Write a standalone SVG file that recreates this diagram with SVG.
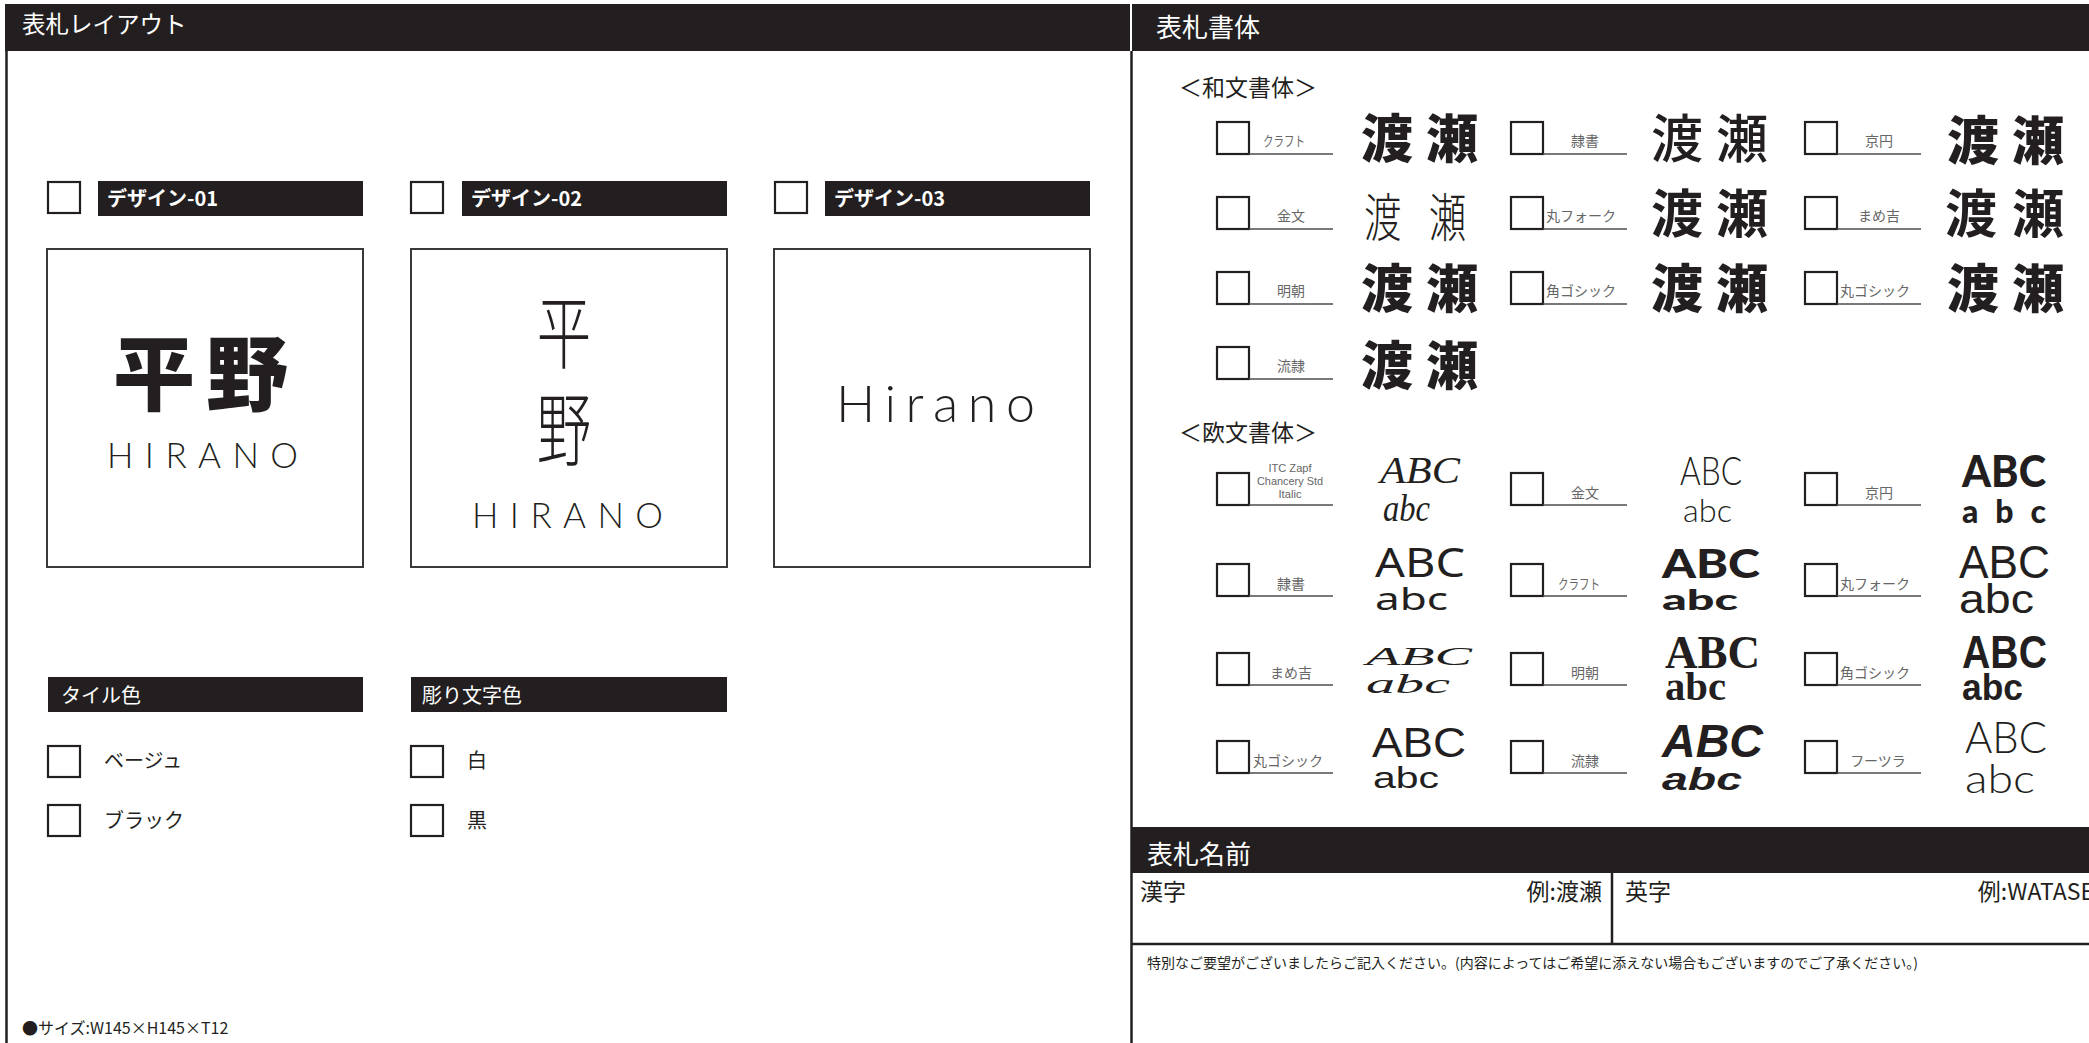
<svg xmlns="http://www.w3.org/2000/svg" width="2089" height="1043" viewBox="0 0 2089 1043">
<style>
.bg{fill:#fff}
.hdr{fill:#231f20}
.line{stroke:#231f20;stroke-width:2.5;fill:none}
.cb{fill:#fff;stroke:#231f20;stroke-width:2.2}
.box{fill:#fff;stroke:#3a3a3a;stroke-width:2}
.ul{stroke:#4d4d4f;stroke-width:1.6}
.jp{font-family:"Noto Sans CJK JP","Noto Sans",sans-serif;fill:#231f20}
.ht{font-family:"Noto Sans CJK JP","Noto Sans",sans-serif;fill:#fff}
.lbl{font-family:"Noto Sans CJK JP","Noto Sans",sans-serif;font-size:14px;fill:#666}
.tiny{font-family:"Liberation Sans",sans-serif;font-size:11px;fill:#666}
.en{font-family:"Lato","Noto Sans",sans-serif;fill:#231f20}
.samp{font-family:"Noto Sans CJK JP",sans-serif;font-size:52px;fill:#231f20}
</style>
<rect class="bg" x="0" y="0" width="2089" height="1043"/>

<!-- Left panel -->
<g id="panel-layout">
  <rect class="hdr" x="5" y="4" width="1125" height="47"/>
  <text class="ht" x="22" y="33" font-size="23.5">表札レイアウト</text>
</g>

<g id="design-01">
  <rect class="cb" x="48" y="182" width="32" height="31"/>
  <rect class="hdr" x="98" y="181" width="265" height="35"/>
  <text class="ht" x="107" y="206" font-size="20" font-weight="700">デザイン-01</text>
  <rect class="box" x="47" y="249" width="316" height="318"/>
  <text class="jp" x="113 206" y="404" font-size="82" font-weight="900">平野</text>
  <text class="en" x="107" y="468" font-size="35" font-weight="300" textLength="191" lengthAdjust="spacing">HIRANO</text>
</g>

<g id="design-02">
  <rect class="cb" x="411" y="182" width="32" height="31"/>
  <rect class="hdr" x="462" y="181" width="265" height="35"/>
  <text class="ht" x="471" y="206" font-size="20" font-weight="700">デザイン-02</text>
  <rect class="box" x="411" y="249" width="316" height="318"/>
  <g transform="translate(564,0) scale(0.68,1)">
    <text class="jp" x="0" y="362" font-size="80" font-weight="300" text-anchor="middle">平</text>
    <text class="jp" x="0" y="459" font-size="80" font-weight="300" text-anchor="middle">野</text>
  </g>
  <text class="en" x="472" y="528" font-size="35" font-weight="300" textLength="191" lengthAdjust="spacing">HIRANO</text>
</g>

<g id="design-03">
  <rect class="cb" x="775" y="182" width="32" height="31"/>
  <rect class="hdr" x="825" y="181" width="265" height="35"/>
  <text class="ht" x="834" y="206" font-size="20" font-weight="700">デザイン-03</text>
  <rect class="box" x="774" y="249" width="316" height="318"/>
  <text class="en" x="836" y="422" font-size="52" font-weight="300" textLength="199" lengthAdjust="spacing">Hirano</text>
</g>

<g id="tile-color">
  <rect class="hdr" x="48" y="677" width="315" height="35"/>
  <text class="ht" x="61" y="703" font-size="20">タイル色</text>
  <rect class="cb" x="48" y="746" width="32" height="31"/>
  <text class="jp" x="104" y="768" font-size="20" fill="#333">ベージュ</text>
  <rect class="cb" x="48" y="805" width="32" height="31"/>
  <text class="jp" x="104" y="828" font-size="20" fill="#333">ブラック</text>
</g>

<g id="letter-color">
  <rect class="hdr" x="411" y="677" width="316" height="35"/>
  <text class="ht" x="422" y="703" font-size="20">彫り文字色</text>
  <rect class="cb" x="411" y="746" width="32" height="31"/>
  <text class="jp" x="467" y="768" font-size="20" fill="#333">白</text>
  <rect class="cb" x="411" y="805" width="32" height="31"/>
  <text class="jp" x="467" y="828" font-size="20" fill="#333">黒</text>
</g>

<g id="size-note">
  <text class="jp" x="22" y="1034" font-size="16" fill="#333">●サイズ:W145×H145×T12</text>
</g>

<!-- Right panel: fonts -->
<g id="panel-font">
  <rect class="hdr" x="1132" y="4" width="957" height="47"/>
  <text class="ht" x="1156" y="37" font-size="26">表札書体</text>
  <text class="jp" x="1179" y="96" font-size="23">＜和文書体＞</text>
  <text class="jp" x="1179" y="441" font-size="23">＜欧文書体＞</text>
</g>

<!-- Japanese fonts -->
<g id="jp-craft">
  <rect class="cb" x="1217" y="122" width="32" height="32"/><line class="ul" x1="1249" y1="154" x2="1333" y2="154"/>
  <text class="lbl" x="1263" y="146" textLength="42" lengthAdjust="spacingAndGlyphs">クラフト</text>
  <text class="samp" x="1361 1426" y="158" font-weight="900">渡瀬</text>
</g>
<g id="jp-reisho">
  <rect class="cb" x="1511" y="122" width="32" height="32"/><line class="ul" x1="1543" y1="154" x2="1627" y2="154"/>
  <text class="lbl" x="1585" y="146" text-anchor="middle">隷書</text>
  <text class="samp" x="1651 1716" y="158" font-weight="500">渡瀬</text>
</g>
<g id="jp-kyoen">
  <rect class="cb" x="1805" y="122" width="32" height="32"/><line class="ul" x1="1837" y1="154" x2="1921" y2="154"/>
  <text class="lbl" x="1879" y="146" text-anchor="middle">京円</text>
  <text class="samp" x="1947 2012" y="160" font-weight="900">渡瀬</text>
</g>
<g id="jp-kinbun">
  <rect class="cb" x="1217" y="197" width="32" height="32"/><line class="ul" x1="1249" y1="229" x2="1333" y2="229"/>
  <text class="lbl" x="1291" y="221" text-anchor="middle">金文</text>
  <g transform="translate(1364,0) scale(0.72,1)">
    <text class="samp" x="0 90" y="237" font-size="64" font-weight="200">渡瀬</text>
  </g>
</g>
<g id="jp-marufork">
  <rect class="cb" x="1511" y="197" width="32" height="32"/><line class="ul" x1="1543" y1="229" x2="1627" y2="229"/>
  <text class="lbl" x="1546" y="221">丸フォーク</text>
  <text class="samp" x="1651 1716" y="233" font-weight="700">渡瀬</text>
</g>
<g id="jp-mamekichi">
  <rect class="cb" x="1805" y="197" width="32" height="32"/><line class="ul" x1="1837" y1="229" x2="1921" y2="229"/>
  <text class="lbl" x="1879" y="221" text-anchor="middle">まめ吉</text>
  <text class="samp" x="1945 2012" y="233" font-weight="700">渡瀬</text>
</g>
<g id="jp-mincho">
  <rect class="cb" x="1217" y="272" width="32" height="32"/><line class="ul" x1="1249" y1="304" x2="1333" y2="304"/>
  <text class="lbl" x="1291" y="296" text-anchor="middle">明朝</text>
  <text class="samp" x="1361 1426" y="308" font-weight="900">渡瀬</text>
</g>
<g id="jp-kakugo">
  <rect class="cb" x="1511" y="272" width="32" height="32"/><line class="ul" x1="1543" y1="304" x2="1627" y2="304"/>
  <text class="lbl" x="1546" y="296">角ゴシック</text>
  <text class="samp" x="1651 1716" y="308" font-weight="900">渡瀬</text>
</g>
<g id="jp-marugo">
  <rect class="cb" x="1805" y="272" width="32" height="32"/><line class="ul" x1="1837" y1="304" x2="1921" y2="304"/>
  <text class="lbl" x="1840" y="296">丸ゴシック</text>
  <text class="samp" x="1947 2012" y="308" font-weight="900">渡瀬</text>
</g>
<g id="jp-ryurei">
  <rect class="cb" x="1217" y="347" width="32" height="32"/><line class="ul" x1="1249" y1="379" x2="1333" y2="379"/>
  <text class="lbl" x="1291" y="371" text-anchor="middle">流隷</text>
  <text class="samp" x="1361 1426" y="385" font-weight="900">渡瀬</text>
</g>

<!-- European fonts -->
<g id="en-zapf">
  <rect class="cb" x="1217" y="473" width="32" height="32"/><line class="ul" x1="1249" y1="505" x2="1333" y2="505"/>
  <text class="tiny" x="1290" y="472" text-anchor="middle" textLength="43" lengthAdjust="spacingAndGlyphs">ITC Zapf</text>
  <text class="tiny" x="1290" y="485" text-anchor="middle" textLength="66" lengthAdjust="spacingAndGlyphs">Chancery Std</text>
  <text class="tiny" x="1290" y="498" text-anchor="middle" textLength="23" lengthAdjust="spacingAndGlyphs">Italic</text>
  <text x="1380" y="483" font-family="Liberation Serif" font-style="italic" font-size="38" fill="#231f20" textLength="80" lengthAdjust="spacingAndGlyphs">ABC</text>
  <text x="1383" y="521" font-family="Liberation Serif" font-style="italic" font-size="38" fill="#231f20" textLength="47" lengthAdjust="spacingAndGlyphs">abc</text>
</g>
<g id="en-kinbun">
  <rect class="cb" x="1511" y="473" width="32" height="32"/><line class="ul" x1="1543" y1="505" x2="1627" y2="505"/>
  <text class="lbl" x="1585" y="498" text-anchor="middle">金文</text>
  <text class="en" x="1680" y="485" font-size="39" font-weight="300" textLength="62" lengthAdjust="spacingAndGlyphs">ABC</text>
  <text class="en" x="1683" y="522" font-size="31" font-weight="300" textLength="49" lengthAdjust="spacingAndGlyphs">abc</text>
</g>
<g id="en-kyoen">
  <rect class="cb" x="1805" y="473" width="32" height="32"/><line class="ul" x1="1837" y1="505" x2="1921" y2="505"/>
  <text class="lbl" x="1879" y="498" text-anchor="middle">京円</text>
  <text class="en" x="1962" y="487" font-size="44" font-weight="900" textLength="84" lengthAdjust="spacingAndGlyphs">ABC</text>
  <text class="en" x="1962" y="523" font-size="32" font-weight="900" textLength="84" lengthAdjust="spacing">abc</text>
</g>
<g id="en-reisho">
  <rect class="cb" x="1217" y="564" width="32" height="32"/><line class="ul" x1="1249" y1="596" x2="1333" y2="596"/>
  <text class="lbl" x="1291" y="589" text-anchor="middle">隷書</text>
  <text x="1375" y="577" font-family="Noto Sans" font-size="40" fill="#231f20" textLength="90" lengthAdjust="spacingAndGlyphs">ABC</text>
  <text x="1375" y="610" font-family="Noto Sans" font-size="31" fill="#231f20" textLength="73" lengthAdjust="spacingAndGlyphs">abc</text>
</g>
<g id="en-craft">
  <rect class="cb" x="1511" y="564" width="32" height="32"/><line class="ul" x1="1543" y1="596" x2="1627" y2="596"/>
  <text class="lbl" x="1558" y="589" textLength="42" lengthAdjust="spacingAndGlyphs">クラフト</text>
  <text class="en" x="1662" y="578" font-size="39" font-weight="900" textLength="98" lengthAdjust="spacingAndGlyphs">ABC</text>
  <text class="en" x="1662" y="610" font-size="28" font-weight="900" textLength="76" lengthAdjust="spacingAndGlyphs">abc</text>
</g>
<g id="en-marufork">
  <rect class="cb" x="1805" y="564" width="32" height="32"/><line class="ul" x1="1837" y1="596" x2="1921" y2="596"/>
  <text class="lbl" x="1840" y="589">丸フォーク</text>
  <text x="1959" y="578" font-family="Liberation Sans" font-size="46" fill="#231f20" textLength="91" lengthAdjust="spacingAndGlyphs">ABC</text>
  <text x="1959" y="613" font-family="Liberation Sans" font-size="41" fill="#231f20" textLength="75" lengthAdjust="spacingAndGlyphs">abc</text>
</g>
<g id="en-mamekichi">
  <rect class="cb" x="1217" y="653" width="32" height="32"/><line class="ul" x1="1249" y1="685" x2="1333" y2="685"/>
  <text class="lbl" x="1291" y="678" text-anchor="middle">まめ吉</text>
  <text x="1366" y="665" font-family="Liberation Serif" font-style="italic" font-size="26" fill="#231f20" textLength="106" lengthAdjust="spacingAndGlyphs">ABC</text>
  <text x="1366" y="693" font-family="Liberation Serif" font-style="italic" font-size="28" fill="#231f20" textLength="84" lengthAdjust="spacingAndGlyphs">abc</text>
</g>
<g id="en-mincho">
  <rect class="cb" x="1511" y="653" width="32" height="32"/><line class="ul" x1="1543" y1="685" x2="1627" y2="685"/>
  <text class="lbl" x="1585" y="678" text-anchor="middle">明朝</text>
  <text x="1665" y="668" font-family="Liberation Serif" font-weight="700" font-size="46" fill="#231f20" textLength="95" lengthAdjust="spacingAndGlyphs">ABC</text>
  <text x="1665" y="700" font-family="Liberation Serif" font-weight="700" font-size="40" fill="#231f20" textLength="61" lengthAdjust="spacingAndGlyphs">abc</text>
</g>
<g id="en-kakugo">
  <rect class="cb" x="1805" y="653" width="32" height="32"/><line class="ul" x1="1837" y1="685" x2="1921" y2="685"/>
  <text class="lbl" x="1840" y="678">角ゴシック</text>
  <text x="1962" y="668" font-family="Liberation Sans" font-weight="700" font-size="46" fill="#231f20" textLength="85" lengthAdjust="spacingAndGlyphs">ABC</text>
  <text x="1962" y="700" font-family="Liberation Sans" font-weight="700" font-size="37" fill="#231f20" textLength="61" lengthAdjust="spacingAndGlyphs">abc</text>
</g>
<g id="en-marugo">
  <rect class="cb" x="1217" y="741" width="32" height="32"/><line class="ul" x1="1249" y1="773" x2="1333" y2="773"/>
  <text class="lbl" x="1253" y="766">丸ゴシック</text>
  <text x="1372" y="757" font-family="Liberation Sans" font-size="42" fill="#231f20" textLength="94" lengthAdjust="spacingAndGlyphs">ABC</text>
  <text x="1373" y="788" font-family="Liberation Sans" font-size="29" fill="#231f20" textLength="66" lengthAdjust="spacingAndGlyphs">abc</text>
</g>
<g id="en-ryurei">
  <rect class="cb" x="1511" y="741" width="32" height="32"/><line class="ul" x1="1543" y1="773" x2="1627" y2="773"/>
  <text class="lbl" x="1585" y="766" text-anchor="middle">流隷</text>
  <text x="1662" y="757" font-family="Liberation Sans" font-weight="700" font-style="italic" font-size="47" fill="#231f20" textLength="101" lengthAdjust="spacingAndGlyphs">ABC</text>
  <text x="1662" y="790" font-family="Liberation Sans" font-weight="700" font-style="italic" font-size="32" fill="#231f20" textLength="80" lengthAdjust="spacingAndGlyphs">abc</text>
</g>
<g id="en-futura">
  <rect class="cb" x="1805" y="741" width="32" height="32"/><line class="ul" x1="1837" y1="773" x2="1921" y2="773"/>
  <text class="lbl" x="1878" y="766" text-anchor="middle">フーツラ</text>
  <text class="en" x="1965" y="753" font-size="43" font-weight="300" textLength="82" lengthAdjust="spacingAndGlyphs">ABC</text>
  <text class="en" x="1965" y="793" font-size="39" font-weight="300" textLength="70" lengthAdjust="spacingAndGlyphs">abc</text>
</g>

<!-- Name section -->
<g id="panel-name">
  <rect class="hdr" x="1132" y="827" width="957" height="46"/>
  <text class="ht" x="1147" y="864" font-size="26">表札名前</text>
</g>
<g id="name-kanji">
  <text class="jp" x="1140" y="900" font-size="23">漢字</text>
  <text class="jp" x="1602" y="900" font-size="23" text-anchor="end">例:渡瀬</text>
</g>
<g id="name-english">
  <text class="jp" x="1625" y="900" font-size="23">英字</text>
  <text class="jp" x="2094" y="900" font-size="23" text-anchor="end">例:WATASE</text>
</g>
<g id="name-request">
  <text class="jp" x="1147" y="968" font-size="14" fill="#333">特別なご要望がございましたらご記入ください。(内容によってはご希望に添えない場合もございますのでご了承ください。)</text>
</g>

<!-- Frame lines -->
<g id="connectors">
  <line class="line" x1="6.5" y1="51" x2="6.5" y2="1043"/>
  <line class="line" x1="1131.5" y1="51" x2="1131.5" y2="1043"/>
  <line class="line" x1="1612" y1="873" x2="1612" y2="944" stroke-width="2"/>
  <line class="line" x1="1131" y1="944" x2="2089" y2="944" stroke-width="2"/>
</g>
</svg>
